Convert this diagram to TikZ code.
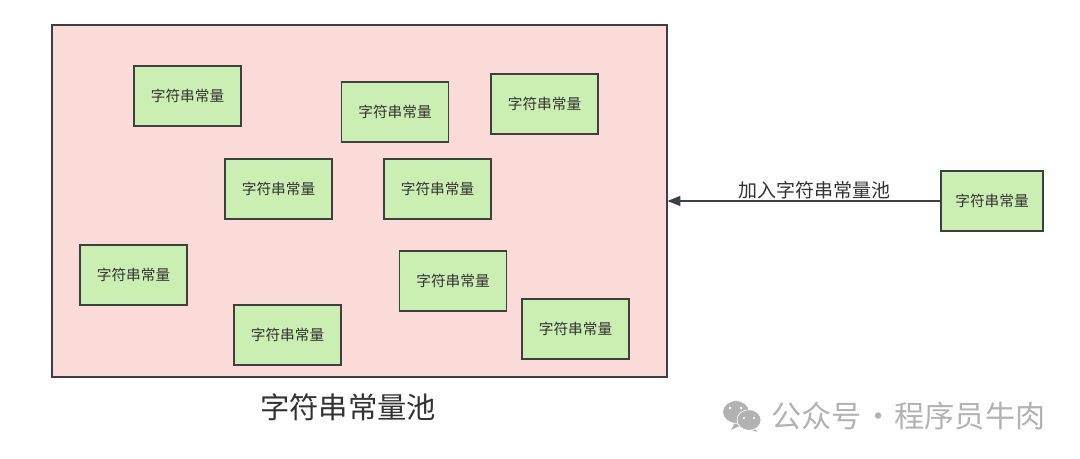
\documentclass[tikz,border=0pt]{standalone}
\usepackage{fontspec}
\usepackage{xcolor}
\setmainfont{Noto Sans CJK SC}
\usetikzlibrary{shapes.geometric, arrows.meta, positioning}
\definecolor{poolred}{HTML}{FBDBD8}
\definecolor{constgreen}{HTML}{CBEEB2}
\definecolor{linegray}{HTML}{3C4043}
\definecolor{textgray}{HTML}{333333}
\definecolor{markgray}{HTML}{B2B2B2}

\begin{document}
\begin{tikzpicture}[
  x=0.75pt, y=-0.75pt,
  poolbox/.style={rectangle, draw=linegray, line width=0.9pt, fill=poolred,
             minimum width=461.25pt, minimum height=264pt, inner sep=0pt},
  constbox/.style={rectangle, draw=linegray, line width=0.9pt, fill=constgreen,
             minimum width=80.25pt, minimum height=45pt, inner sep=0pt,
             text=textgray, font=\fontsize{11pt}{13pt}\selectfont},
  arrow/.style={-{Triangle[length=9.5pt, width=7.5pt]}, line width=0.9pt, color=linegray},
  arrowlabel/.style={text=textgray, inner sep=0pt, font=\fontsize{14.25pt}{16pt}\selectfont},
  pooltitle/.style={text=textgray, inner sep=0pt, font=\fontsize{22pt}{26pt}\selectfont},
  wechatbubble/.style={ellipse, fill=markgray, draw=white, line width=0.5pt, inner sep=0pt},
  wechateye/.style={fill=white, draw=none},
  marktext/.style={text=markgray, inner sep=0pt, font=\fontsize{22.6pt}{24pt}\selectfont}
]
\useasboundingbox (0,0) rectangle (1080,459);

\node[poolbox] (pool) at (359.5,201) {};

\node[constbox] (const1) at (187.5,96) {字符串常量};
\node[constbox] (const2) at (395,112) {字符串常量};
\node[constbox] (const3) at (544.5,104) {字符串常量};
\node[constbox] (const4) at (278.5,189) {字符串常量};
\node[constbox] (const5) at (437.5,189) {字符串常量};
\node[constbox] (const6) at (133.5,275) {字符串常量};
\node[constbox] (const7) at (453,281) {字符串常量};
\node[constbox] (const8) at (287.5,335) {字符串常量};
\node[constbox] (const9) at (575.5,329) {字符串常量};

\node[constbox, minimum width=76.5pt] (newconst) at (992,201) {字符串常量};

\draw[arrow] (newconst.west) -- node[arrowlabel, above=1pt, pos=0.46] {加入字符串常量池} (pool.east);

\node[pooltitle, below=12pt of pool, xshift=-8.6pt] (title) {字符串常量池};

% watermark
\fill[markgray] (735,422) -- (731,430) -- (742,425) -- cycle;
\fill[markgray] (753,426) -- (757,432) -- (745,428) -- cycle;
\node[wechatbubble, minimum width=20pt, minimum height=17pt] (bubbleleft) at (736,412) {};
\node[wechatbubble, minimum width=18pt, minimum height=15.5pt] (bubbleright) at (749,420) {};
\fill[wechateye] (730,408) circle (1.4);
\fill[wechateye] (741,408) circle (1.4);
\fill[wechateye] (744,418) circle (1.2);
\fill[wechateye] (754,418) circle (1.2);
\node[marktext, anchor=west] (mark) at (771,416) {公众号\hspace{-4pt} · \hspace{-4pt}程序员牛肉};

\end{tikzpicture}
\end{document}
